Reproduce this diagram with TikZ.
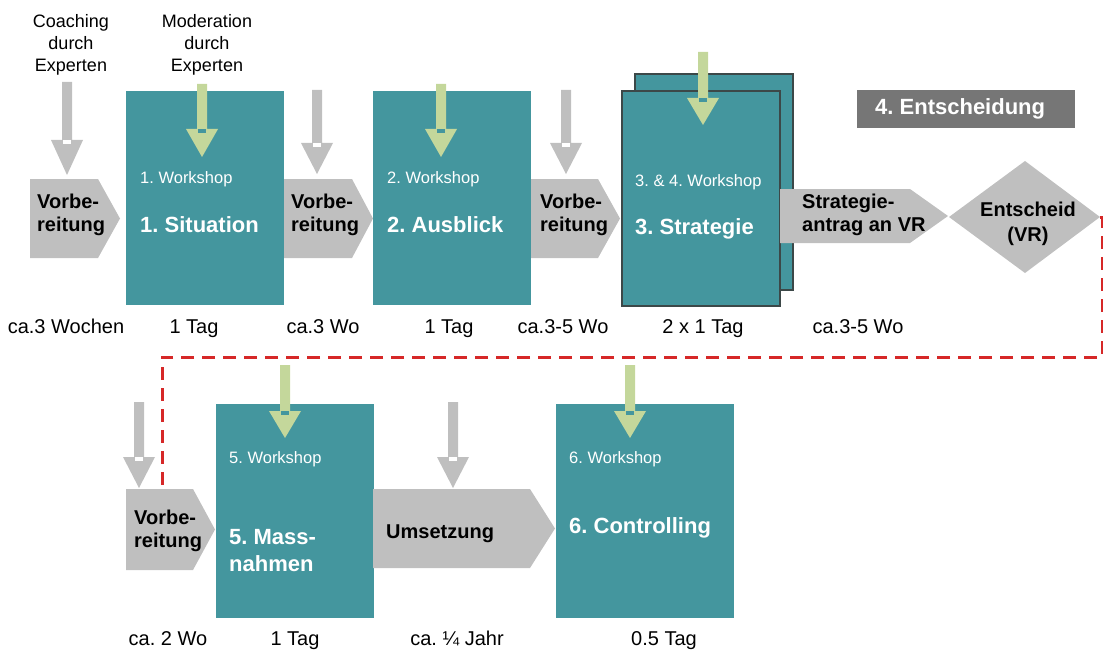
\documentclass[tikz,border=0pt]{standalone}
\usepackage{fontspec}
\setmainfont{Liberation Sans}
\frenchspacing
\definecolor{teal1}{RGB}{68,150,158}
\definecolor{gry}{RGB}{191,191,191}
\definecolor{grn}{RGB}{196,215,155}
\definecolor{dkg}{RGB}{118,118,118}
\definecolor{red1}{RGB}{214,40,40}
\definecolor{bord}{RGB}{60,72,72}
\newcommand\dnarrow[6]{%
  \fill[#5] (#1-5,#2) -- (#1+5,#2) -- (#1+5,#3) -- (#1+16,#3) -- (#1,#4) -- (#1-16,#3) -- (#1-5,#3) -- cycle;
  \fill[#6] (#1-4,#3) rectangle (#1+4,#3+4);
}
\newcommand\chev[6]{% name, x1, xr, xp, y1, y2
  \fill[gry] (#2,#5) -- (#3,#5) -- (#4,{(#5+#6)/2}) -- (#3,#6) -- (#2,#6) -- cycle;
  \coordinate (#1) at (#2,{(#5+#6)/2});
}
\begin{document}
\begin{tikzpicture}[x=1pt,y=-1pt,
  lbl/.style={font=\fontsize{18}{22}\selectfont, align=center, inner sep=0},
  blbl/.style={font=\fontsize{20}{23}\selectfont\bfseries, align=left, inner sep=0, anchor=west},
  wsm/.style={font=\fontsize{16.5}{20}\selectfont, text=white, inner sep=0, anchor=west},
  wbig/.style={font=\fontsize{22}{27}\selectfont\bfseries, text=white, inner sep=0, anchor=west, align=left},
  dur/.style={font=\fontsize{20}{24}\selectfont, inner sep=0, anchor=base},
  tbox/.style={fill=teal1},
  reddash/.style={draw=red1, line width=3pt, dash pattern=on 13pt off 8pt}
  ]
\useasboundingbox (0,0) rectangle (1103,650);

% ---------- top row ----------
\node[lbl] (coach) at (71,45) {Coaching\\durch\\Experten};
\node[lbl] (moder) at (207,45) {Moderation\\durch\\Experten};

\dnarrow{67}{82}{140}{175}{gry}{white}
\chev{c1}{30}{98}{120}{179}{258}
\node[blbl] (t1) at (37,215) {Vorbe-\\reitung};

\fill[tbox] (126,91) rectangle (284,305);
\coordinate (b1) at (126,91);
\dnarrow{202}{84}{129}{157}{grn}{teal1}
\node[wsm] (w1) at (140,179) {1. Workshop};
\node[wbig] (s1) at (140,225) {1. Situation};

\dnarrow{317}{90}{143}{174}{gry}{white}
\chev{c2}{284}{352}{373}{179}{258}
\node[blbl] (t2) at (291,215) {Vorbe-\\reitung};

\fill[tbox] (373,91) rectangle (531,305);
\coordinate (b2) at (373,91);
\dnarrow{441}{84}{129}{157}{grn}{teal1}
\node[wsm] (w2) at (387,179) {2. Workshop};
\node[wbig] (s2) at (387,225) {2. Ausblick};

\dnarrow{566}{90}{143}{174}{gry}{white}
\chev{c3}{531}{598}{620}{179}{258}
\node[blbl] (t3) at (540,215) {Vorbe-\\reitung};

\filldraw[fill=teal1, draw=bord, line width=1.5pt] (635,74) rectangle (793,290);
\filldraw[fill=teal1, draw=bord, line width=1.5pt] (622,91) rectangle (780,306);
\coordinate (b3) at (622,91);
\dnarrow{703}{52}{98}{125}{grn}{teal1}
\node[wsm] (w3) at (635,182) {3. \& 4. Workshop};
\node[wbig] (s3) at (635,229) {3. Strategie};

\chev{c4}{780}{910}{948}{189}{243}
\node[blbl] (t4) at (802,215) {Strategie-\\antrag an VR};

\fill[gry] (949,217) -- (1025,161) -- (1100,217) -- (1025,273) -- cycle;
\coordinate (dE) at (1100,217);
\node[font=\fontsize{20}{25}\selectfont\bfseries, align=center, inner sep=0] (ent) at (1028,224) {Entscheid\\(VR)};

\fill[dkg] (857,90) rectangle (1075,128);
\node[wbig] (e4) at (875,109) {4. Entscheidung};

\node[dur] (d1) at (66,333) {ca.3 Wochen};
\node[dur] (d2) at (194,333) {1 Tag};
\node[dur] (d3) at (323,333) {ca.3 Wo};
\node[dur] (d4) at (449,333) {1 Tag};
\node[dur] (d5) at (563,333) {ca.3-5 Wo};
\node[dur] (d6) at (703,333) {2 x 1 Tag};
\node[dur] (d7) at (858,333) {ca.3-5 Wo};

% ---------- bottom row ----------
\dnarrow{139}{402}{457}{488}{gry}{white}
\chev{c5}{126}{193}{215}{489}{570}
\coordinate (c5top) at (162,489);
\node[blbl] (t5) at (134,531) {Vorbe-\\reitung};

\fill[tbox] (216,404) rectangle (374,618);
\coordinate (b5) at (216,404);
\dnarrow{285}{365}{411}{438}{grn}{teal1}
\node[wsm] (w5) at (229,459) {5. Workshop};
\node[wbig] (s5) at (229,551) {5. Mass-\\nahmen};

\dnarrow{453}{402}{457}{488}{gry}{white}
\chev{c6}{373}{530}{555}{489}{568}
\node[blbl] (t6) at (386,534) {Umsetzung};

\fill[tbox] (556,404) rectangle (734,618);
\coordinate (b6) at (556,404);
\dnarrow{630}{365}{411}{438}{grn}{teal1}
\node[wsm] (w6) at (569,459) {6. Workshop};
\node[wbig] (s6) at (569,528) {6. Controlling};

\node[dur] (d8) at (168,645) {ca. 2 Wo};
\node[dur] (d9) at (295,645) {1 Tag};
\node[dur] (d10) at (457,645) {ca. ¼ Jahr};
\node[dur] (d11) at (664,645) {0.5 Tag};

% ---------- red dashed connector ----------
\draw[reddash] (dE) -| (1102,357) -| (c5top);
\end{tikzpicture}
\end{document}
